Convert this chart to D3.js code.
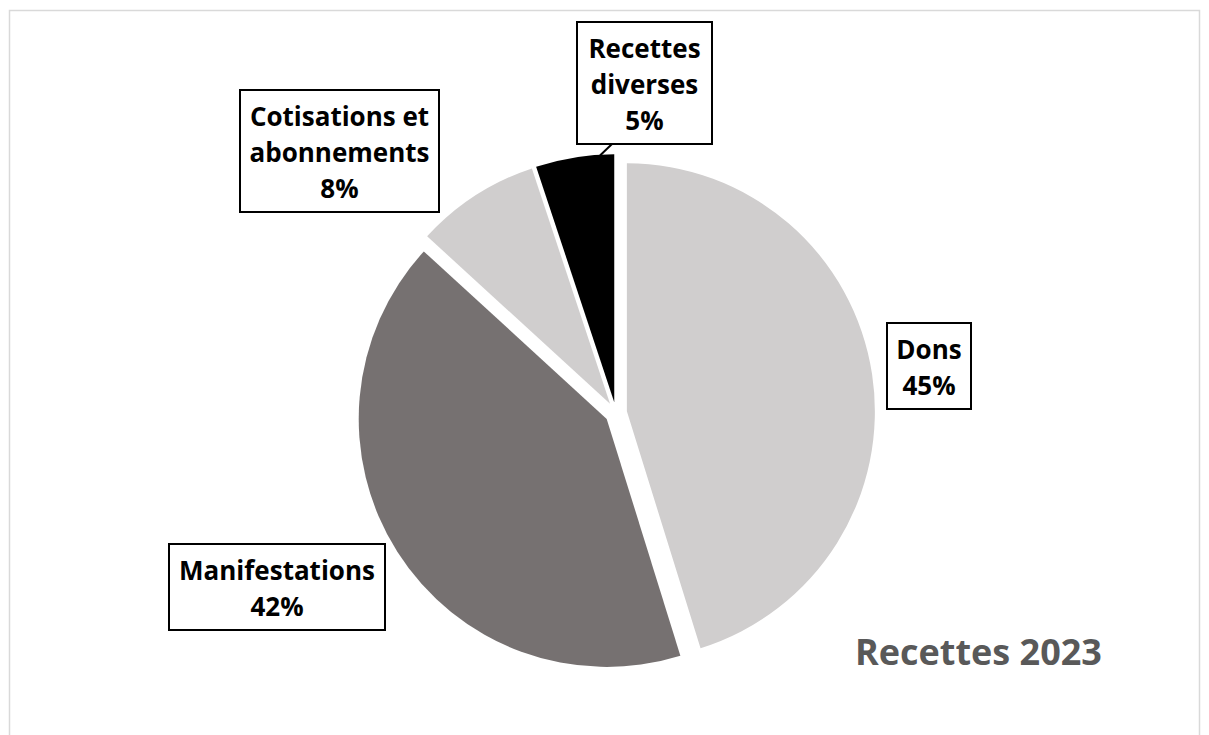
<!DOCTYPE html>
<html>
<head>
<meta charset="utf-8">
<script src="https://cdn.jsdelivr.net/npm/d3@7"></script>
<style>
  html, body { margin: 0; padding: 0; background: #ffffff; }
  svg { display: block; }
</style>
</head>
<body>
<svg id="chart" width="1209" height="735"></svg>
<script>
// ---- data ----
const categories = ["Dons", "Manifestations", "Cotisations et abonnements", "Recettes diverses"];
const values = [45.2, 41.6, 8.1, 5.1];
const labelLines = [["Dons"], ["Manifestations"], ["Cotisations et", "abonnements"], ["Recettes", "diverses"]];
const colors = ["#d0cece", "#767171", "#d0cece", "#000000"];
const title = "Recettes 2023";

// ---- layout ----
const W = 1209, H = 735;
const cx = 616, cy = 413, R = 248, explode = 11;
const boxes = [
  {x: 887, y: 323, w: 84},
  {x: 169, y: 544, w: 216},
  {x: 240, y: 90, w: 199},
  {x: 577, y: 22, w: 135}
];
const lineH = 36, firstBase = 36, padBottom = 15;

const svg = d3.select("#chart");

// outer border
svg.append("rect")
  .attr("x", 9.5).attr("y", 10.5)
  .attr("width", 1190).attr("height", 800)
  .attr("fill", "none").attr("stroke", "#d9d9d9").attr("stroke-width", 1.5);

const pie = d3.pie().sort(null).value(d => d)(values);
const total = d3.sum(values);
const arc = d3.arc().innerRadius(0).outerRadius(R);
const offsetOf = d => {
  const a = (d.startAngle + d.endAngle) / 2;
  return [explode * Math.sin(a), -explode * Math.cos(a)];
};

const g = svg.append("g").attr("transform", `translate(${cx},${cy})`);
g.selectAll("path.slice")
  .data(pie)
  .join("path")
  .attr("class", "slice")
  .attr("d", arc)
  .attr("fill", (d, i) => colors[i])
  .attr("transform", d => `translate(${offsetOf(d)})`);

// leader line for the small slice (from box bottom to slice rim)
{
  const d = pie[3];
  const [ox, oy] = offsetOf(d);
  const a = d.startAngle + (d.endAngle - d.startAngle) * 0.82;
  const ex = cx + ox + (R - 1) * Math.sin(a);
  const ey = cy + oy - (R - 1) * Math.cos(a);
  g.append("line")
    .attr("x1", ex - cx).attr("y1", ey - cy)
    .attr("x2", 612 - cx).attr("y2", boxes[3].y + 3 * lineH + padBottom - 1 - cy)
    .attr("stroke", "#000").attr("stroke-width", 2);
}

// labels
pie.forEach((d, i) => {
  const b = boxes[i];
  const lines = labelLines[i].concat([Math.round(d.value / total * 100) + "%"]);
  const h = lines.length * lineH + padBottom - 1;
  const lg = svg.append("g");
  lg.append("rect")
    .attr("x", b.x).attr("y", b.y).attr("width", b.w).attr("height", h)
    .attr("fill", "#fff").attr("stroke", "#000").attr("stroke-width", 2);
  lg.selectAll("text").data(lines).join("text")
    .attr("x", b.x + b.w / 2)
    .attr("y", (t, k) => b.y + firstBase + k * lineH)
    .attr("text-anchor", "middle")
    .attr("font-family", "'Open Sans', sans-serif")
    .attr("font-weight", "bold")
    .attr("font-size", 26)
    .attr("fill", "#000")
    .text(t => t);
});

// title
svg.append("text")
  .attr("x", 855).attr("y", 665)
  .attr("font-family", "'Open Sans', sans-serif")
  .attr("font-weight", "bold")
  .attr("font-size", 36)
  .attr("fill", "#595959")
  .text(title);
</script>
</body>
</html>
